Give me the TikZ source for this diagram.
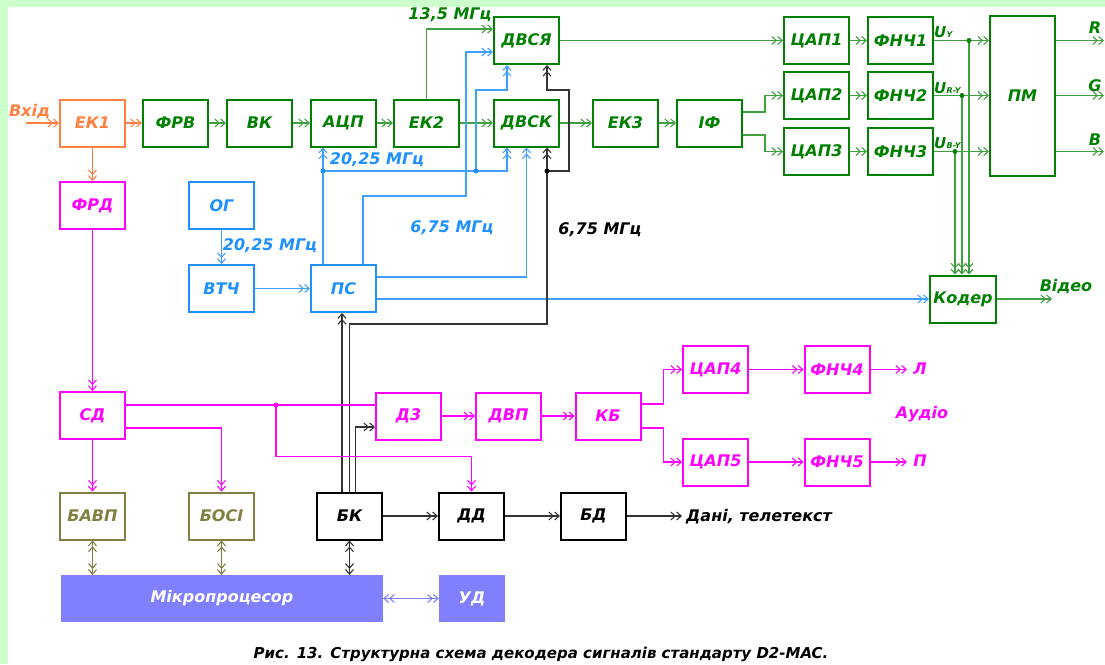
\documentclass[tikz,border=0pt]{standalone}
\usepackage{fontspec}
\setmainfont{DejaVu Sans}[BoldFont={DejaVu Sans Bold},ItalicFont={DejaVu Sans Oblique},BoldItalicFont={DejaVu Sans Bold Oblique}]
\usetikzlibrary{arrows.meta,calc}
\definecolor{bgg}{HTML}{CCFFCC}
\definecolor{org}{HTML}{FF8040}
\definecolor{grn}{HTML}{008000}
\definecolor{grnl}{HTML}{40A040}
\definecolor{blu}{HTML}{1E90FF}
\definecolor{blul}{HTML}{40A0FF}
\definecolor{mag}{HTML}{FF00FF}
\definecolor{olv}{HTML}{808040}
\definecolor{purp}{HTML}{8080FF}
\newcommand{\lblfont}{\fontsize{16}{16}\selectfont\bfseries\itshape}
\begin{document}
\begin{tikzpicture}[x=1pt,y=-1pt,
  box/.style={draw,line width=2pt,minimum width=65pt,minimum height=47pt,inner sep=0pt,font=\lblfont},
  lbl/.style={inner sep=0pt,font=\lblfont},
  wire/.style={line width=1.1pt},
  ar/.style={-{Straight Barb[length=4.5pt,width=8pt]Straight Barb[length=4.5pt,width=8pt]}},
  dar/.style={{Straight Barb[length=4.5pt,width=8pt]Straight Barb[length=4.5pt,width=8pt]}-{Straight Barb[length=4.5pt,width=8pt]Straight Barb[length=4.5pt,width=8pt]}},
  ow/.style={wire,draw=org},
  gw/.style={wire,draw=grnl},
  bw/.style={wire,draw=blul},
  kw/.style={wire,draw=black!80},
  mw/.style={wire,draw=mag},
  vw/.style={wire,draw=olv},
  pw/.style={wire,draw=purp},
  dot/.style={circle,inner sep=0pt,minimum size=5pt},
  ulab/.style={inner sep=0pt,text=grn,anchor=base west,font=\fontsize{15}{15}\selectfont\bfseries\itshape}
]
\useasboundingbox (0,0) rectangle (1105,664);
\fill[white] (0,0) rectangle (1105,664);
\fill[bgg] (0,0) rectangle (1105,7);
\fill[bgg] (0,0) rectangle (8,664);

% ---------- top row ----------
\node[box,draw=org,text=org] (ek1) at (92.5,123) {ЕК1};
\node[box,draw=grn,text=grn] (frv) at (175.5,123) {ФРВ};
\node[box,draw=grn,text=grn] (vk) at (259.5,123) {ВК};
\node[box,draw=grn,text=grn] (acp) at (343.5,123) {АЦП};
\node[box,draw=grn,text=grn] (ek2) at (426.5,123) {ЕК2};
\node[box,draw=grn,text=grn] (dvsk) at (526.5,123) {ДВСК};
\node[box,draw=grn,text=grn] (ek3) at (625.5,123) {ЕК3};
\node[box,draw=grn,text=grn] (if) at (709.5,123) {ІФ};
\node[box,draw=grn,text=grn] (dvsya) at (526.5,40.5) {ДВСЯ};
\node[box,draw=grn,text=grn] (cap1) at (816.5,40.5) {ЦАП1};
\node[box,draw=grn,text=grn] (cap2) at (816.5,95.5) {ЦАП2};
\node[box,draw=grn,text=grn] (cap3) at (816.5,151.5) {ЦАП3};
\node[box,draw=grn,text=grn] (fnch1) at (900.5,40.5) {ФНЧ1};
\node[box,draw=grn,text=grn] (fnch2) at (900.5,95.5) {ФНЧ2};
\node[box,draw=grn,text=grn] (fnch3) at (900.5,151.5) {ФНЧ3};
\node[box,draw=grn,text=grn,minimum height=160pt] (pm) at (1022.5,95.5) {ПМ};
\node[box,draw=grn,text=grn,minimum width=66pt] (koder) at (963,299) {Кодер};

% ---------- middle ----------
\node[box,draw=mag,text=mag] (frd) at (92.5,205.5) {ФРД};
\node[box,draw=blu,text=blu] (og) at (221.5,205.5) {ОГ};
\node[box,draw=blu,text=blu] (vtch) at (221.5,288.5) {ВТЧ};
\node[box,draw=blu,text=blu] (ps) at (343.5,288.5) {ПС};

% ---------- lower ----------
\node[box,draw=mag,text=mag] (sd) at (92.5,415.5) {СД};
\node[box,draw=mag,text=mag] (d3) at (408.5,416) {Д3};
\node[box,draw=mag,text=mag] (dvp) at (508.5,416) {ДВП};
\node[box,draw=mag,text=mag] (kb) at (608,416) {КБ};
\node[box,draw=mag,text=mag] (cap4) at (715.5,369.5) {ЦАП4};
\node[box,draw=mag,text=mag] (cap5) at (715.5,462) {ЦАП5};
\node[box,draw=mag,text=mag] (fnch4) at (837,369.5) {ФНЧ4};
\node[box,draw=mag,text=mag] (fnch5) at (837,462) {ФНЧ5};

% ---------- bottom ----------
\node[box,draw=olv,text=olv] (bavp) at (92.5,516) {БАВП};
\node[box,draw=olv,text=olv] (bosi) at (221.5,516) {БОСІ};
\node[box,draw=black] (bk) at (349.5,516) {БК};
\node[box,draw=black] (dd) at (471.5,516) {ДД};
\node[box,draw=black] (bd) at (593.5,516) {БД};
\node[fill=purp,text=white,minimum width=322pt,minimum height=47pt,inner sep=0pt,font=\lblfont] (mikro) at (222,598.5) {Мікропроцесор};
\node[fill=purp,text=white,minimum width=66pt,minimum height=47pt,inner sep=0pt,font=\lblfont] (ud) at (472,598.5) {УД};

% ---------- orange ----------
\coordinate (vin) at (26,123);
\draw[ow,ar] (vin) -- (ek1);
\node[lbl,text=org] (lvin) at (29.5,112) {Вхід};
\draw[ow,ar] (ek1) -- (frv);
\draw[ow,ar] (ek1) -- (frd);

% ---------- green ----------
\draw[gw,ar] (frv) -- (vk);
\draw[gw,ar] (vk) -- (acp);
\draw[gw,ar] (acp) -- (ek2);
\draw[gw,ar] (ek2) -- (dvsk);
\draw[gw,ar] (dvsk) -- (ek3);
\draw[gw,ar] (ek3) -- (if);
\draw[gw,ar] (ek2.north) |- ([yshift=11.5pt]dvsya.west);
\node[lbl,text=grn] (l135) at (450,15) {13,5 МГц};
\draw[gw,ar] (dvsya) -- (cap1);
\draw[gw,ar] (cap1) -- (fnch1);
\draw[gw,ar] (cap2) -- (fnch2);
\draw[gw,ar] (cap3) -- (fnch3);
\draw[gw,ar] (fnch1.east) -- (pm.west |- fnch1.east);
\draw[gw,ar] (fnch2.east) -- (pm.west |- fnch2.east);
\draw[gw,ar] (fnch3.east) -- (pm.west |- fnch3.east);
\draw[gw,ar] ([yshift=11pt]if.east) -- ++(22,0) |- (cap2.west);
\draw[gw,ar] ([yshift=-12pt]if.east) -- ++(22,0) |- (cap3.west);
\coordinate (jy) at (969,40.5);
\coordinate (jry) at (962,95.5);
\coordinate (jby) at (955,151.5);
\draw[gw,ar] (jy) -- (jy |- koder.north);
\draw[gw,ar] (jry) -- (jry |- koder.north);
\draw[gw,ar] (jby) -- (jby |- koder.north);
\node[dot,fill=grn] at (jy) {};
\node[dot,fill=grn] at (jry) {};
\node[dot,fill=grn] at (jby) {};
\node[ulab] (uy) at (934,37) {U\kern0.3pt\raisebox{-0.5pt}{\fontsize{8}{8}\selectfont Y}};
\node[ulab] (ury) at (934,93) {U\kern0.3pt\raisebox{-0.5pt}{\fontsize{8}{8}\selectfont R-Y}};
\node[ulab] (uby) at (934,148) {U\kern0.3pt\raisebox{-0.5pt}{\fontsize{8}{8}\selectfont B-Y}};
\coordinate (oR) at (1104,40.5);
\coordinate (oG) at (1104,95.5);
\coordinate (oB) at (1104,151.5);
\draw[gw,ar] (pm.east |- oR) -- (oR);
\draw[gw,ar] (pm.east |- oG) -- (oG);
\draw[gw,ar] (pm.east |- oB) -- (oB);
\node[lbl,text=grn] (lR) at (1095,28) {R};
\node[lbl,text=grn] (lG) at (1095,86) {G};
\node[lbl,text=grn] (lB) at (1095,140) {B};
\coordinate (vid) at (1052,299);
\draw[gw,ar] (koder) -- (vid);
\node[lbl,text=grn] (lvid) at (1066,287) {Відео};

% ---------- blue ----------
\draw[bw,ar] (og) -- (vtch);
\node[lbl,text=blu] (l2025a) at (270,246) {20,25 МГц};
\draw[bw,ar] (vtch) -- (ps);
\coordinate (ja) at (323,171);
\coordinate (jb) at (476,171);
\draw[bw,ar] (ja |- ps.north) -- (ja |- acp.south);
\draw[bw,ar] (ja) -| ([xshift=-19.5pt]dvsk.south);
\draw[bw,ar] (jb) |- ([xshift=-19.5pt,yshift=-25pt]dvsya.south) -- ([xshift=-19.5pt]dvsya.south);
\node[dot,fill=blu] at (ja) {};
\node[dot,fill=blu] at (jb) {};
\node[lbl,text=blu] (l2025b) at (377,160) {20,25 МГц};
\coordinate (pb1) at (466,196);
\draw[bw,ar] ([xshift=19.5pt]ps.north) |- (pb1) |- ([yshift=-11.5pt]dvsya.west);
\draw[bw,ar] ([yshift=11.5pt]ps.east) -| (dvsk.south);
\draw[bw,ar] ([yshift=-10.5pt]ps.east) -- (koder.west);
\node[lbl,text=blu] (l675a) at (452,228) {6,75 МГц};

% ---------- black ----------
\coordinate (jc) at (547,171);
\coordinate (kc) at (547,324);
\draw[kw,ar] ([xshift=-7.5pt]bk.north) -- ([xshift=-7.5pt]bk.north |- ps.south);
\draw[kw,ar] (bk.north) |- (kc) -- (jc |- dvsk.south);
\draw[kw,ar] ([xshift=6pt]bk.north) |- ([yshift=-11pt]d3.west);
\draw[kw,ar] (jc) -- ++(22,0) |- ([xshift=20.5pt,yshift=-25pt]dvsya.south) -- ([xshift=20.5pt]dvsya.south);
\node[dot,fill=black] at (jc) {};
\node[lbl,text=black] (l675b) at (600,230) {6,75 МГц};
\draw[kw,ar] (bk) -- (dd);
\draw[kw,ar] (dd) -- (bd);
\coordinate (dout) at (682,516);
\draw[kw,ar] (bd) -- (dout);
\node[lbl,text=black,anchor=west] (ldata) at (686,517) {Дані, телетекст};
\draw[kw,dar] (bk.south) -- (bk.south |- mikro.north);

% ---------- olive / purple ----------
\draw[vw,dar] (bavp.south) -- (bavp.south |- mikro.north);
\draw[vw,dar] (bosi.south) -- (bosi.south |- mikro.north);
\draw[pw,dar] (mikro) -- (ud);

% ---------- magenta ----------
\draw[mw,ar] (frd) -- (sd);
\draw[mw] ([yshift=10.5pt]sd.east) coordinate (sdo) -- (sdo -| d3.west);
\coordinate (jd) at (276,405);
\draw[mw,ar] (jd) |- ([yshift=35pt]dd.north) -- (dd.north);
\node[dot,fill=mag] at (jd) {};
\draw[mw,ar] ([yshift=-12.5pt]sd.east) -| (bosi.north);
\draw[mw,ar] (sd) -- (bavp);
\draw[mw,ar] (d3) -- (dvp);
\draw[mw,ar] (dvp) -- (kb);
\draw[mw,ar] ([yshift=12pt]kb.east) -- ++(22,0) |- (cap4.west);
\draw[mw,ar] ([yshift=-12pt]kb.east) -- ++(22,0) |- (cap5.west);
\draw[mw,ar] (cap4) -- (fnch4);
\draw[mw,ar] (cap5) -- (fnch5);
\coordinate (oL) at (907,369.5);
\coordinate (oP) at (907,462);
\draw[mw,ar] (fnch4) -- (oL);
\draw[mw,ar] (fnch5) -- (oP);
\node[lbl,text=mag] (lL) at (920,369) {Л};
\node[lbl,text=mag] (lP) at (920,461) {П};
\node[lbl,text=mag] (laud) at (922,414) {Аудіо};

% ---------- caption ----------
\node[lbl,text=black,font=\fontsize{15}{15}\selectfont\bfseries\itshape] (cap) at (541,654) {Рис. 13. Структурна схема декодера сигналів стандарту D2-MAC.};
\end{tikzpicture}
\end{document}
